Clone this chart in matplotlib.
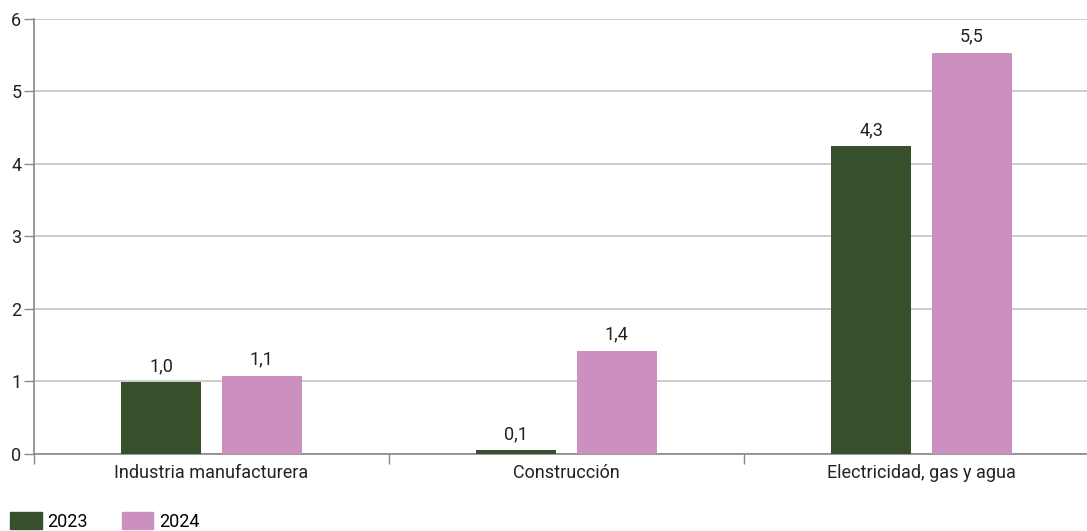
import matplotlib
matplotlib.use("Agg")
import matplotlib.pyplot as plt
from matplotlib.patches import Patch

categories = ["Industria manufacturera", "Construcción", "Electricidad, gas y agua"]
series_names = ["2023", "2024"]
values_2023 = [0.99, 0.05, 4.24]
values_2024 = [1.08, 1.42, 5.53]
labels_2023 = ["1,0", "0,1", "4,3"]
labels_2024 = ["1,1", "1,4", "5,5"]
yticks = [0, 1, 2, 3, 4, 5, 6]

colors = ["#374f2b", "#cb8fc0"]

plt.rcParams['font.family'] = ['Roboto', 'DejaVu Sans']

W, H = 1087, 531
fig = plt.figure(figsize=(W / 100, H / 100), dpi=100)
ax = fig.add_axes([34 / W, 77 / H, 1065 / W, 435.3 / H])

centers = [i + 0.5 for i in range(len(categories))]
bw = 0.225
off = 0.142
for vals, labs, col, d in [(values_2023, labels_2023, colors[0], -off),
                           (values_2024, labels_2024, colors[1], off)]:
    xs = [c + d for c in centers]
    ax.bar(xs, vals, width=bw, color=col, zorder=3)
    for x, v, t in zip(xs, vals, labs):
        ax.text(x, v + 0.1, t, ha='center', va='bottom', fontsize=13, color='#222222')

ax.set_xlim(0, 3)
ax.set_ylim(0, 6)
ax.set_yticks(yticks)
ax.set_yticklabels([str(t) for t in yticks], fontsize=13, color='#222222')
ax.set_xticks([0, 1, 2, 3])
ax.set_xticklabels([])
ax.set_xticks(centers, minor=True)
ax.set_xticklabels(categories, minor=True, fontsize=13, color='#222222')
ax.tick_params(axis='x', which='minor', length=0, pad=7)
ax.tick_params(axis='x', which='major', length=7, color='#888888', width=1)
ax.tick_params(axis='y', length=7, color='#888888', width=1, pad=2)

ax.grid(axis='y', color='#c4c4c4', linewidth=1.2, zorder=0)
for s in ['top', 'right']:
    ax.spines[s].set_visible(False)
for s in ['left', 'bottom']:
    ax.spines[s].set_color('#888888')
    ax.spines[s].set_linewidth(1.2)

handles = [Patch(color=c) for c in colors]
fig.legend(handles, series_names, loc='upper left', bbox_to_anchor=(10 / W, 1 - 512 / H),
           ncol=2, frameon=False, fontsize=13, handlelength=1.75, handleheight=1.1,
           handletextpad=0.3, columnspacing=1.9, borderaxespad=0.0, borderpad=0.0)

fig.savefig("out.png", dpi=100)
